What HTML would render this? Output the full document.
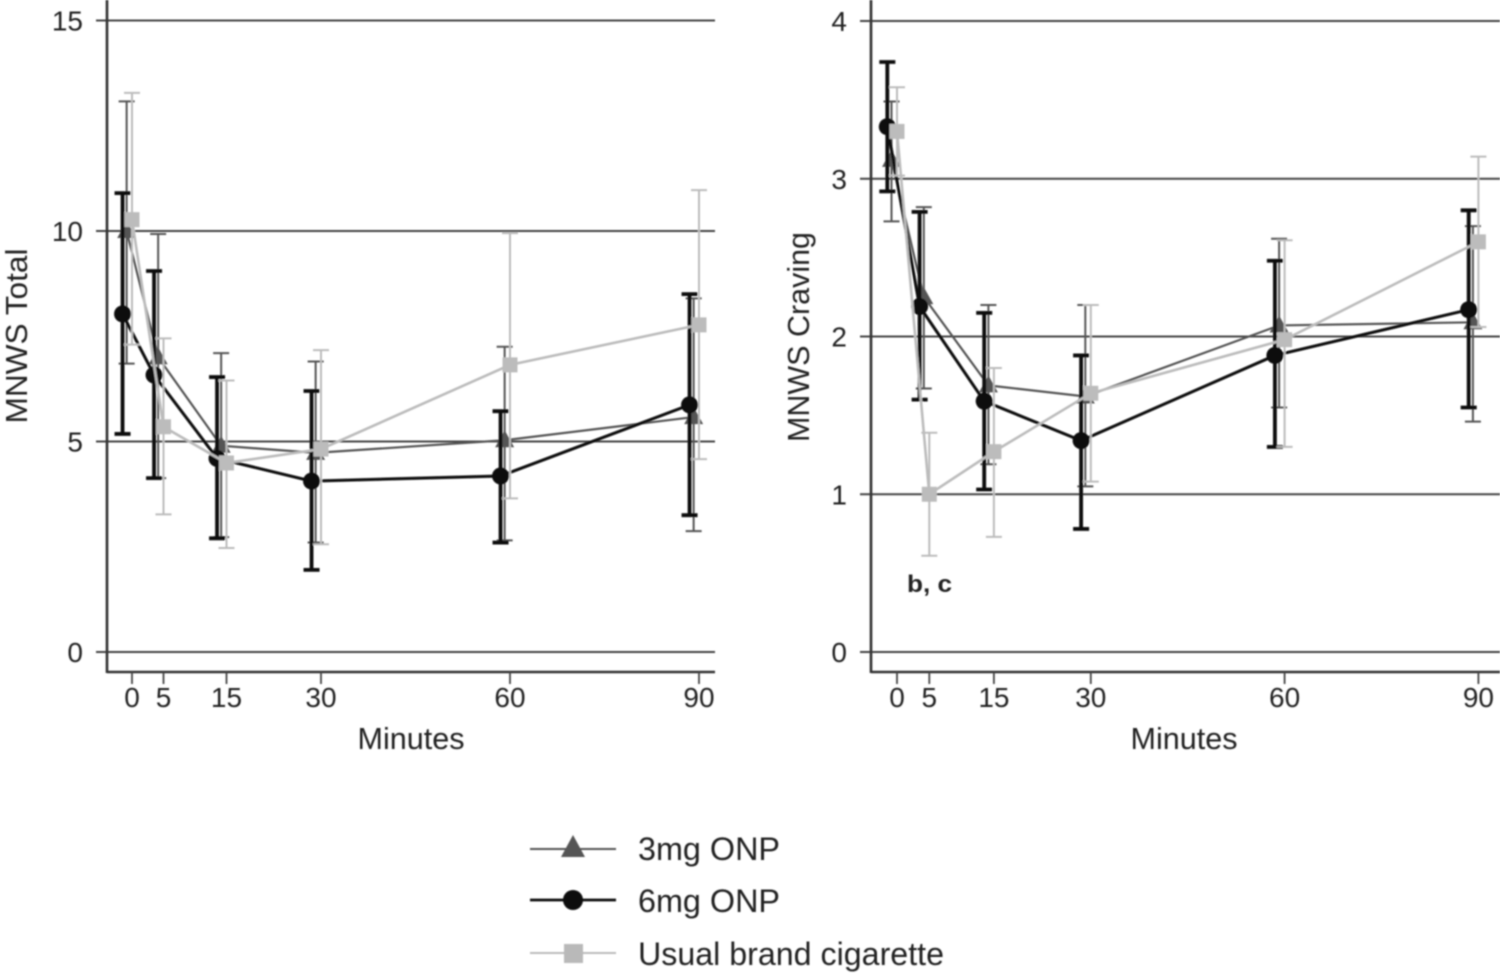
<!DOCTYPE html>
<html lang="en">
<head>
<meta charset="utf-8">
<title>MNWS Total and Craving by Minutes</title>
<style>
  html, body { margin: 0; padding: 0; background: #fff; width: 1500px; height: 973px; overflow: hidden; }
  svg { display: block; }
  text { font-family: "Liberation Sans", sans-serif; fill: #222; }
</style>
</head>
<body>
<svg id="chart" xmlns="http://www.w3.org/2000/svg" width="1500" height="973" viewBox="0 0 1500 973">
  <defs>
    <filter id="soft" x="-5%" y="-5%" width="110%" height="110%"><feGaussianBlur stdDeviation="0.7"/></filter>
  </defs>
  <g id="root" filter="url(#soft)"></g>
  <g filter="url(#soft)">
    <g>
      <line x1="530" y1="849" x2="616" y2="849" stroke="#555" stroke-width="2"/>
      <polygon points="573,835 585,857 561,857" fill="#555"/>
      <text x="638" y="860" font-size="32" textLength="142" lengthAdjust="spacingAndGlyphs">3mg ONP</text>
    </g>
    <g>
      <line x1="530" y1="900" x2="616" y2="900" stroke="#111" stroke-width="2.8"/>
      <circle cx="573" cy="900" r="10" fill="#0a0a0a"/>
      <text x="638" y="912" font-size="32" textLength="142" lengthAdjust="spacingAndGlyphs">6mg ONP</text>
    </g>
    <g>
      <line x1="530" y1="953" x2="616" y2="953" stroke="#bbb" stroke-width="2"/>
      <rect x="564" y="944" width="19" height="19" fill="#b9b9b9"/>
      <text x="638" y="965" font-size="32" textLength="306" lengthAdjust="spacingAndGlyphs">Usual brand cigarette</text>
    </g>
  </g>
</svg>
<script>
// Shared axis data
const minutes = [0, 5, 15, 30, 60, 90];
const xTickLabels = ["0", "5", "15", "30", "60", "90"];
const totalYTicks = [0, 5, 10, 15];
const cravingYTicks = [0, 1, 2, 3, 4];
const seriesNames = ["3mg ONP", "6mg ONP", "Usual brand cigarette"];
// Horizontal dodge of each series, in minutes
const seriesDodge = [-0.85, -1.5, 0];

// MNWS Total
const total3mg = [10.0, 7.0, 4.9, 4.73, 5.03, 5.58];
const total3mgLow = [6.85, 4.13, 2.73, 2.6, 2.65, 2.87];
const total3mgHigh = [13.08, 9.93, 7.1, 6.9, 7.25, 8.4];
const total6mg = [8.03, 6.58, 4.6, 4.06, 4.18, 5.87];
const total6mgLow = [5.18, 4.13, 2.7, 1.95, 2.6, 3.25];
const total6mgHigh = [10.9, 9.05, 6.53, 6.2, 5.72, 8.5];
const totalCig = [10.27, 5.35, 4.49, 4.82, 6.82, 7.77];
const totalCigLow = [7.3, 3.27, 2.47, 2.56, 3.65, 4.58];
const totalCigHigh = [13.28, 7.45, 6.45, 7.17, 9.95, 10.97];

// MNWS Craving
const craving3mg = [3.12, 2.25, 1.69, 1.62, 2.07, 2.09];
const craving3mgLow = [2.73, 1.67, 1.19, 1.05, 1.55, 1.46];
const craving3mgHigh = [3.49, 2.82, 2.2, 2.2, 2.62, 2.7];
const craving6mg = [3.33, 2.19, 1.59, 1.34, 1.88, 2.17];
const craving6mgLow = [2.92, 1.6, 1.03, 0.78, 1.3, 1.55];
const craving6mgHigh = [3.74, 2.79, 2.15, 1.88, 2.48, 2.8];
const cravingCig = [3.3, 1.0, 1.27, 1.64, 1.98, 2.6];
const cravingCigLow = [3.02, 0.61, 0.73, 1.08, 1.3, 2.06];
const cravingCigHigh = [3.58, 1.39, 1.8, 2.2, 2.61, 3.14];

const NS = "http://www.w3.org/2000/svg";
const root = document.getElementById("root");

function make(tag, attrs, parent) {
  const el = document.createElementNS(NS, tag);
  for (const k in attrs) el.setAttribute(k, attrs[k]);
  parent.appendChild(el);
  return el;
}

const seriesStyles = [
  { key: "3mg", color: "#555", lineW: 2.2, barW: 2, marker: "triangle" },
  { key: "6mg", color: "#0a0a0a", lineW: 3, barW: 3.8, marker: "circle" },
  { key: "cigarette", color: "#bcbcbc", lineW: 2.6, barW: 2, marker: "square" }
];

function drawPanel(cfg) {
  const panel = make("g", {}, root);
  
  
  const x = m => cfg.x0 + m * cfg.xScale;
  const y = v => cfg.y0 - v * cfg.yScale;

  // gridlines and y axis ticks
  cfg.yTicks.forEach(t => {
    const grid = make("line", { x1: cfg.axisX - 11, x2: cfg.right, y1: y(t), y2: y(t), stroke: "#444", "stroke-width": 2 }, panel);
    
    
    const lab = make("text", { x: cfg.axisX - 24, y: y(t) + 10, "font-size": 28, "text-anchor": "end" }, panel);
    
    
    lab.textContent = t;
  });

  // axes
  const yAxis = make("line", { x1: cfg.axisX, x2: cfg.axisX, y1: 0, y2: 673, stroke: "#333", "stroke-width": 2.6 }, panel);
  
  
  const xAxis = make("line", { x1: cfg.axisX, x2: cfg.right, y1: 672, y2: 672, stroke: "#333", "stroke-width": 2.6 }, panel);
  
  

  // x ticks
  minutes.forEach((m, i) => {
    const tick = make("line", { x1: x(m), x2: x(m), y1: 672, y2: 684, stroke: "#444", "stroke-width": 1.8 }, panel);
    
    
    const lab = make("text", { x: x(m), y: 707, "font-size": 28, "text-anchor": "middle" }, panel);
    
    
    lab.textContent = xTickLabels[i];
  });

  // axis titles
  const xt = make("text", { x: cfg.xTitleX, y: 749, "font-size": 31, "text-anchor": "middle", textLength: 107, lengthAdjust: "spacingAndGlyphs" }, panel);
  
  
  xt.textContent = "Minutes";
  const yt = make("text", { x: 0, y: 0, "font-size": 31, "text-anchor": "middle", textLength: cfg.yTitleLen, lengthAdjust: "spacingAndGlyphs", transform: "translate(" + cfg.yTitleX + "," + cfg.yTitleY + ") rotate(-90)" }, panel);
  
  
  yt.textContent = cfg.yTitle;

  // series
  cfg.series.forEach((s, si) => {
    const st = seriesStyles[si];
    const g = make("g", {}, panel);
    
    
    const dodge = seriesDodge[si];
    const px = minutes.map(m => x(m + dodge));

    s.low.forEach((lo, i) => {
      const hi = s.high[i];
      const bar = make("path", {
        d: "M" + px[i] + " " + y(hi) + "V" + y(lo) +
           "M" + (px[i] - 8) + " " + y(hi) + "H" + (px[i] + 8) +
           "M" + (px[i] - 8) + " " + y(lo) + "H" + (px[i] + 8),
        fill: "none", stroke: st.color, "stroke-width": st.barW
      }, g);
      
      
    });

    const line = make("polyline", {
      points: s.mean.map((v, i) => px[i] + "," + y(v)).join(" "),
      fill: "none", stroke: st.color, "stroke-width": st.lineW
    }, g);
    
    

    s.mean.forEach((v, i) => {
      let mk;
      if (st.marker === "circle") {
        mk = make("circle", { cx: px[i], cy: y(v), r: 8.5, fill: st.color }, g);
      } else if (st.marker === "square") {
        mk = make("rect", { x: px[i] - 7.5, y: y(v) - 7.5, width: 15, height: 15, fill: st.color }, g);
      } else {
        mk = make("polygon", {
          points: px[i] + "," + (y(v) - 10) + " " + (px[i] + 9.5) + "," + (y(v) + 7) + " " + (px[i] - 9.5) + "," + (y(v) + 7),
          fill: st.color
        }, g);
      }
      
      
    });
  });
}

drawPanel({
  name: "mnws-total-panel",
  axisX: 107, right: 715, x0: 132, xScale: 6.3, y0: 652, yScale: 42.1,
  yTicks: totalYTicks, xTitleX: 411, yTitle: "MNWS Total", yTitleLen: 175, yTitleX: 27, yTitleY: 336,
  series: [
    { mean: total3mg, low: total3mgLow, high: total3mgHigh },
    { mean: total6mg, low: total6mgLow, high: total6mgHigh },
    { mean: totalCig, low: totalCigLow, high: totalCigHigh }
  ]
});

drawPanel({
  name: "mnws-craving-panel",
  axisX: 871, right: 1500, x0: 897, xScale: 6.46, y0: 652, yScale: 157.75,
  yTicks: cravingYTicks, xTitleX: 1184, yTitle: "MNWS Craving", yTitleLen: 210, yTitleX: 809, yTitleY: 337,
  series: [
    { mean: craving3mg, low: craving3mgLow, high: craving3mgHigh },
    { mean: craving6mg, low: craving6mgLow, high: craving6mgHigh },
    { mean: cravingCig, low: cravingCigLow, high: cravingCigHigh }
  ]
});

const note = make("text", { x: 907, y: 592, "font-size": 24, "font-weight": "bold", textLength: 45, lengthAdjust: "spacingAndGlyphs" }, root);


note.textContent = "b, c";
</script>
</body>
</html>
